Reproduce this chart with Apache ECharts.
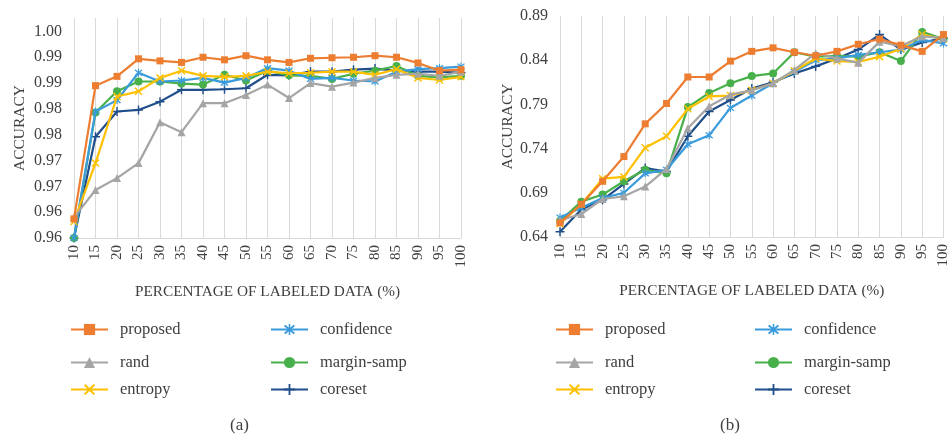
<!DOCTYPE html>
<html>
<head>
<meta charset="utf-8">
<script src="https://cdn.jsdelivr.net/npm/echarts@6/dist/echarts.min.js"></script>
<style>
html,body{margin:0;padding:0;background:#fff;}
#main{width:951px;height:436px;}
</style>
</head>
<body>
<div id="main"></div>
<script>
// ---------- data ----------
var categories = ['10','15','20','25','30','35','40','45','50','55','60','65','70','75','80','85','90','95','100'];

var seriesNames = ['proposed','rand','entropy','confidence','margin-samp','coreset'];

// chart (a)
var aProposed   = [0.9587,0.9845,0.9863,0.9897,0.9893,0.9890,0.9900,0.9895,0.9903,0.9895,0.9890,0.9898,0.9899,0.9900,0.9903,0.9900,0.9889,0.9874,0.9876];
var aRand       = [0.9590,0.9643,0.9666,0.9695,0.9774,0.9755,0.9811,0.9811,0.9827,0.9847,0.9821,0.9850,0.9843,0.9851,0.9860,0.9866,0.9868,0.9864,0.9872];
var aEntropy    = [0.9582,0.9695,0.9824,0.9834,0.9860,0.9874,0.9864,0.9862,0.9864,0.9872,0.9869,0.9870,0.9872,0.9872,0.9866,0.9877,0.9860,0.9856,0.9862];
var aConfidence = [0.9550,0.9795,0.9817,0.9870,0.9853,0.9855,0.9860,0.9851,0.9860,0.9879,0.9874,0.9858,0.9860,0.9855,0.9853,0.9872,0.9877,0.9879,0.9882];
var aMargin     = [0.9550,0.9793,0.9834,0.9853,0.9853,0.9849,0.9847,0.9866,0.9855,0.9874,0.9865,0.9864,0.9858,0.9868,0.9874,0.9883,0.9864,0.9861,0.9864];
var aCoreset    = [0.9550,0.9746,0.9795,0.9798,0.9814,0.9837,0.9837,0.9838,0.9840,0.9866,0.9865,0.9872,0.9872,0.9876,0.9878,0.9874,0.9872,0.9872,0.9870];

// chart (b)
var bProposed   = [0.656,0.677,0.703,0.731,0.768,0.791,0.821,0.821,0.839,0.850,0.854,0.849,0.845,0.850,0.858,0.864,0.857,0.850,0.869];
var bRand       = [0.659,0.666,0.683,0.686,0.697,0.717,0.763,0.788,0.801,0.806,0.814,0.829,0.848,0.842,0.837,0.861,0.856,0.867,0.865];
var bEntropy    = [0.655,0.677,0.706,0.708,0.741,0.754,0.785,0.799,0.800,0.806,0.814,0.828,0.842,0.839,0.838,0.844,0.853,0.869,0.864];
var bConfidence = [0.662,0.673,0.684,0.690,0.712,0.716,0.745,0.755,0.786,0.800,0.814,0.827,0.840,0.842,0.846,0.849,0.852,0.863,0.859];
var bMargin     = [0.658,0.680,0.688,0.703,0.716,0.712,0.787,0.803,0.814,0.822,0.825,0.849,0.844,0.845,0.844,0.849,0.839,0.872,0.864];
var bCoreset    = [0.646,0.671,0.682,0.700,0.718,0.714,0.754,0.782,0.795,0.808,0.815,0.825,0.833,0.842,0.852,0.869,0.852,0.860,0.865];

// axis tick values and labels
var aTickValues = [0.955,0.960,0.965,0.970,0.975,0.980,0.985,0.990,0.995];
var aTickLabels = ['0.96','0.96','0.97','0.97','0.98','0.98','0.99','0.99','1.00'];
var bTickValues = [0.64,0.69,0.74,0.79,0.84,0.89];
var bTickLabels = ['0.64','0.69','0.74','0.79','0.84','0.89'];

var xTitle = 'PERCENTAGE OF LABELED DATA (%)';
var yTitle = 'ACCURACY';
var captions = ['(a)','(b)'];

// ---------- style ----------
var FONT = 'Liberation Serif';
var TXT = '#404040';
var colors = ['#ED7D31','#A5A5A5','#FFC000','#3A9BDC','#47B04B','#1F4E8A'];
var xSym = 'path://M0,1.3 L1.3,0 L5,3.7 L8.7,0 L10,1.3 L6.3,5 L10,8.7 L8.7,10 L5,6.3 L1.3,10 L0,8.7 L3.7,5 Z';
var astSym = 'path://M0,1.3 L1.3,0 L5,3.7 L8.7,0 L10,1.3 L6.3,5 L10,8.7 L8.7,10 L5,6.3 L1.3,10 L0,8.7 L3.7,5 Z M4.3,-1 H5.7 V11 H4.3 Z';
var plusSym = 'path://M4.2,0 H5.8 V4.2 H10 V5.8 H5.8 V10 H4.2 V5.8 H0 V4.2 H4.2 Z';
var symbols = ['rect','triangle',xSym,astSym,'circle',plusSym];
var symSizes = [7,8,8,8,8,9];

var aData = [aProposed,aRand,aEntropy,aConfidence,aMargin,aCoreset];
var bData = [bProposed,bRand,bEntropy,bConfidence,bMargin,bCoreset];

function makeSeries(dataSets, idx){
  return dataSets.map(function(d,i){
    return {
      name: seriesNames[i], type:'line', xAxisIndex: idx, yAxisIndex: idx,
      data: d, symbol: symbols[i], symbolSize: symSizes[i], showAllSymbol: true,
      lineStyle:{color:colors[i], width:2.2}, itemStyle:{color:colors[i]},
      z: 10 - i, animation:false, clip:false
    };
  });
}

function xAxisCfg(idx){
  return {
    type:'category', gridIndex: idx, data: categories, boundaryGap:false,
    axisLine:{show:true, lineStyle:{color:'#D9D9D9', width:1}},
    axisTick:{show:false},
    splitLine:{show:true, lineStyle:{color:'#D9D9D9', width:1}},
    axisLabel:{interval:0, rotate:90, margin:7, color:TXT, fontFamily:FONT, fontSize:15},
    name: xTitle, nameLocation:'middle', nameGap:46,
    nameTextStyle:{color:TXT, fontFamily:FONT, fontSize:15.3}
  };
}

function yAxisCfg(idx, min, max, vals, labels, gap){
  return {
    type:'value', gridIndex: idx, min:min, max:max,
    axisLine:{show:false}, axisTick:{show:false}, splitLine:{show:false},
    axisLabel:{
      customValues: vals, margin:12, color:TXT, fontFamily:FONT, fontSize:16,
      formatter:function(v){
        var best=0, bd=1e9;
        for(var k=0;k<vals.length;k++){ var dd=Math.abs(vals[k]-v); if(dd<bd){bd=dd;best=k;} }
        return labels[best];
      }
    },
    name: yTitle, nameLocation:'middle', nameGap:gap, nameRotate:90,
    nameTextStyle:{color:TXT, fontFamily:FONT, fontSize:15.5}
  };
}

var legendRows = [316, 349, 376];
var legends = [];
function addLegends(colLeft){
  for(var i=0;i<6;i++){
    var row = (i===0||i===3)?0:((i===1||i===4)?1:2);
    var col = (i<3)?0:1;
    legends.push({
      data:[seriesNames[i]], left: colLeft[col], top: legendRows[row],
      itemWidth:37, itemHeight:14, orient:'horizontal', selectedMode:false,
      textStyle:{color:TXT, fontFamily:FONT, fontSize:16.5, padding:[0,0,0,7]}
    });
  }
}
addLegends([65, 265]);
addLegends([550, 749]);

var option = {
  backgroundColor:'#ffffff',
  animation:false,
  title:[
    {text:captions[0], left:225, top:412, textStyle:{color:TXT, fontFamily:FONT, fontSize:17, fontWeight:'normal'}},
    {text:captions[1], left:715, top:412, textStyle:{color:TXT, fontFamily:FONT, fontSize:17, fontWeight:'normal'}}
  ],
  legend: legends,
  grid:[
    {left:74, right:490, top:18, bottom:198},
    {left:560, right:0.4, top:16, bottom:199}
  ],
  xAxis:[xAxisCfg(0), xAxisCfg(1)],
  yAxis:[
    yAxisCfg(0, 0.955, 0.9976, aTickValues, aTickLabels, 46),
    yAxisCfg(1, 0.64, 0.89, bTickValues, bTickLabels, 42)
  ],
  series: makeSeries(aData,0).concat(makeSeries(bData,1))
};

var chart = echarts.init(document.getElementById('main'), null, {renderer:'canvas'});
chart.setOption(option);
</script>
</body>
</html>
